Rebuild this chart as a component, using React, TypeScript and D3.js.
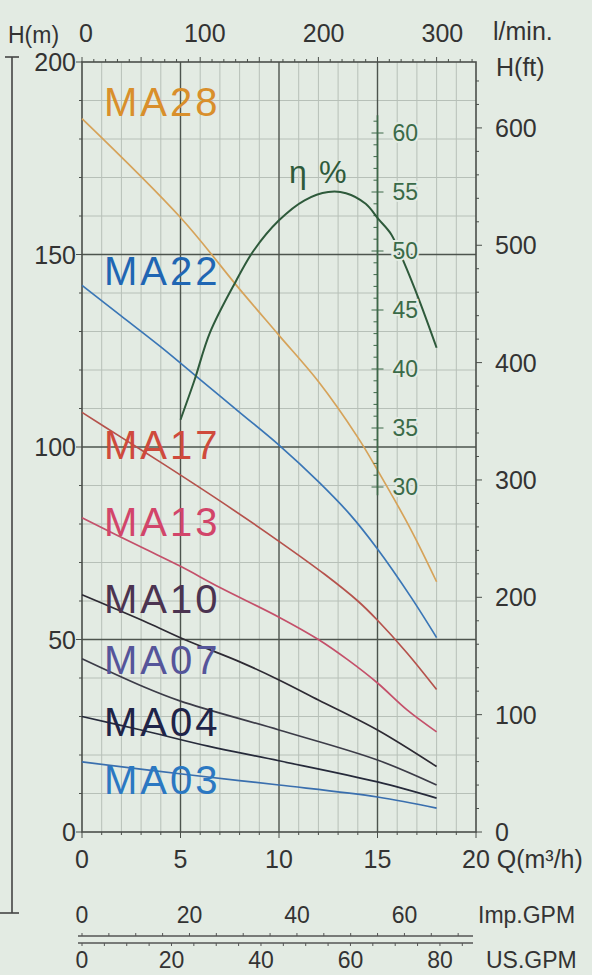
import * as d3 from "d3";
import React from "react";

// pump curves, [Q m3/h, H m]
const ma28 = [[0, 185.3], [5, 159.6], [8, 141], [10, 129], [12, 117], [14, 102.5], [15, 94], [16.7, 78.5], [18, 65]];
const ma22 = [[0, 142], [2, 134], [4, 126], [6, 117.5], [8, 109], [10, 100.5], [12, 91], [13.6, 82.5], [15, 73.5], [16.7, 61], [18, 50.5]];
const ma17 = [[0, 109], [2, 102.5], [4, 96], [7, 86], [10, 75.5], [12.3, 67], [14, 60], [15, 55], [16.5, 46.5], [18, 37]];
const ma13 = [[0, 81.6], [3, 74], [5, 69], [7, 63.5], [10, 55.8], [12, 50], [13.5, 44.7], [15, 38.7], [16.5, 31.7], [18, 26]];
const ma10 = [[0, 61.6], [3.35, 54.3], [5.2, 50], [8.1, 44], [10, 39.5], [12, 34.3], [15, 26.5], [18, 17]];
const ma07 = [[0, 45], [3, 38], [5, 34], [10, 26.5], [15, 18.7], [18, 12.2]];
const ma04 = [[0, 30], [3, 26.5], [6.4, 22.3], [10, 18.5], [15, 13], [18, 8.8]];
const ma03 = [[0, 18.2], [5.5, 14.8], [10, 12.2], [15, 9.1], [18, 6.2]];

// efficiency, [Q, eta %]
const etaCurve = [[5, 35.7], [5.7, 39], [6.5, 43.1], [7.8, 47.4], [8.7, 50], [10, 52.6], [11.3, 54.3], [12.5, 55], [13.4, 54.9], [14.4, 54], [15.05, 52.7], [15.7, 51.4], [16.3, 49.2], [17.1, 45.9], [18, 41.8]];

const models = ["MA28", "MA22", "MA17", "MA13", "MA10", "MA07", "MA04", "MA03"];
const labelH = [186, 142, 97, 77, 57, 41, 25, 10]; // label baseline in H(m)
const textColors = ["#d98f2b", "#1f66b3", "#cf4a3c", "#d2456a", "#4b3350", "#55559a", "#1f2448", "#2b78c2"];
const lineColors = ["#d6a35a", "#3a76b6", "#b5524c", "#c4506a", "#2d2a33", "#3c3c48", "#262a3a", "#3a6fae"];
const series = [ma28, ma22, ma17, ma13, ma10, ma07, ma04, ma03];

const qTicks = [0, 5, 10, 15];
const hTicks = [0, 50, 100, 150, 200];
const ftTicks = [0, 100, 200, 300, 400, 500, 600];
const lminTicks = [0, 100, 200, 300];
const impTicks = [0, 20, 40, 60];
const usTicks = [0, 20, 40, 60, 80];
const etaTicks = [30, 35, 40, 45, 50, 55, 60];

const W = 592;
const H = 975;
const bg = "#e3ebe3";
const font = "'Liberation Sans', Arial, sans-serif";

export default function App() {
  const x = d3.scaleLinear().domain([0, 20]).range([82, 476]);
  const y = d3.scaleLinear().domain([0, 200]).range([832, 62]);
  const yFt = d3.scaleLinear().domain([0, 200 / 0.3048]).range([832, 62]);
  const yEta = d3.scaleLinear().domain([30, 60]).range([487, 133]);
  const xLmin = d3.scaleLinear().domain([0, 20000 / 60]).range([86, 482]);
  const xImp = d3.scaleLinear().domain([0, 20 * 3.666]).range([82, 476]);
  const xUs = d3.scaleLinear().domain([0, 20 * 4.403]).range([82, 476]);

  const line = d3.line().x(d => x(d[0])).y(d => y(d[1])).curve(d3.curveCatmullRom.alpha(0.5));
  const etaLine = d3.line().x(d => x(d[0])).y(d => yEta(d[1])).curve(d3.curveCatmullRom.alpha(0.5));

  const xe = x(15);
  const impY = 936;
  const usY = 943;

  return (
    <svg width={W} height={H} style={{ position: "absolute", left: 0, top: 0, background: bg }} fontFamily={font}>
      <rect width={W} height={H} fill={bg} />
      {/* minor grid */}
      {d3.range(1, 20).filter(v => v % 5 !== 0).map(v => (
        <line key={`vx${v}`} x1={x(v)} x2={x(v)} y1={y(0)} y2={y(200)} stroke="#b7c0b8" strokeWidth={1} />
      ))}
      {d3.range(10, 200, 10).filter(v => v % 50 !== 0).map(v => (
        <line key={`hy${v}`} x1={x(0)} x2={x(20)} y1={y(v)} y2={y(v)} stroke="#b7c0b8" strokeWidth={1} />
      ))}
      {/* major grid */}
      {[5, 10, 15].map(v => (
        <line key={`VX${v}`} x1={x(v)} x2={x(v)} y1={y(0)} y2={y(200)} stroke="#4d544e" strokeWidth={1.4} />
      ))}
      {[50, 100, 150].map(v => (
        <line key={`HY${v}`} x1={x(0)} x2={x(20)} y1={y(v)} y2={y(v)} stroke="#4d544e" strokeWidth={1.4} />
      ))}
      <rect x={x(0)} y={y(200)} width={x(20) - x(0)} height={y(0) - y(200)} fill="none" stroke="#4a4f4a" strokeWidth={1.6} />

      {/* top l/min ticks */}
      {d3.range(0, 340, 10).map(v => (
        <line key={`lt${v}`} x1={x(v * 60 / 1000)} x2={x(v * 60 / 1000)} y1={y(200)} y2={y(200) - (v % 50 === 0 ? 5 : 3)} stroke="#4a4f4a" strokeWidth={1} />
      ))}
      {/* bottom minor ticks */}
      {d3.range(0, 21).map(v => (
        <line key={`bt${v}`} x1={x(v)} x2={x(v)} y1={y(0)} y2={y(0) + (v % 5 === 0 ? 6 : 3)} stroke="#4a4f4a" strokeWidth={1} />
      ))}
      {/* left ticks */}
      {d3.range(0, 201, 10).map(v => (
        <line key={`lh${v}`} x1={x(0)} x2={x(0) - (v % 50 === 0 ? 6 : 3)} y1={y(v)} y2={y(v)} stroke="#4a4f4a" strokeWidth={1} />
      ))}
      {/* right ft ticks */}
      {d3.range(0, 660, 20).map(v => (
        <line key={`rf${v}`} x1={x(20)} x2={x(20) + (v % 100 === 0 ? 6 : 3)} y1={yFt(v)} y2={yFt(v)} stroke="#4a4f4a" strokeWidth={1} />
      ))}

      {/* pump curves */}
      {series.map((s, i) => (
        <path key={models[i]} d={line(s as [number, number][]) || ""} fill="none" stroke={lineColors[i]} strokeWidth={1.7} />
      ))}

      {/* efficiency axis */}
      <line x1={xe} x2={xe} y1={yEta(61.5)} y2={yEta(29.3)} stroke="#3d6848" strokeWidth={1.6} />
      {d3.range(30, 62).map(v => (
        <line key={`et${v}`} x1={xe - (v % 5 === 0 ? 6 : 4)} x2={xe + (v % 5 === 0 ? 6 : 0)} y1={yEta(v)} y2={yEta(v)} stroke="#3d6848" strokeWidth={1} />
      ))}
      <path d={etaLine(etaCurve as [number, number][]) || ""} fill="none" stroke="#2e5a3b" strokeWidth={2} />
      {etaTicks.map(v => (
        <text key={`el${v}`} x={xe + 15} y={yEta(v) + 8} fontSize={23} fill="#3a6a48" stroke={bg} strokeWidth={4} paintOrder="stroke">{v}</text>
      ))}
      <text x={289} y={183} fontSize={32} fill="#2e5a3b">η</text>
      <text x={319} y={183} fontSize={31} fill="#2e5a3b">%</text>

      {/* model labels */}
      {models.map((m, i) => (
        <text key={`ml${m}`} x={104} y={y(labelH[i])} fontSize={40} letterSpacing={3} fill={textColors[i]}>{m}</text>
      ))}

      {/* left axis labels */}
      {hTicks.map(v => (
        <text key={`hl${v}`} x={76} y={y(v) + 9} fontSize={25} textAnchor="end" fill="#333">{v}</text>
      ))}
      {/* right axis labels */}
      {ftTicks.map(v => (
        <text key={`fl${v}`} x={495} y={yFt(v) + 9} fontSize={25} fill="#333">{v}</text>
      ))}
      <text x={496} y={76} fontSize={25} fill="#333">H(ft)</text>
      <text x={8} y={43} fontSize={23} fill="#333">H(m)</text>
      {/* top l/min labels */}
      {lminTicks.map(v => (
        <text key={`tl${v}`} x={xLmin(v)} y={42} fontSize={25} textAnchor="middle" fill="#333">{v}</text>
      ))}
      <text x={493} y={40} fontSize={25} fill="#333">l/min.</text>
      {/* bottom Q labels */}
      {qTicks.map(v => (
        <text key={`ql${v}`} x={x(v)} y={868} fontSize={25} textAnchor="middle" fill="#333">{v}</text>
      ))}
      <text x={462} y={868} fontSize={25} fill="#333">20 Q(m³/h)</text>

      {/* GPM scales */}
      {impTicks.map(v => (
        <text key={`il${v}`} x={xImp(v)} y={923} fontSize={23} textAnchor="middle" fill="#333">{v}</text>
      ))}
      <text x={478} y={923} fontSize={23} fill="#333">Imp.GPM</text>
      <line x1={78} x2={473} y1={impY} y2={impY} stroke="#555" strokeWidth={1.4} />
      {d3.range(0, 75, 5).map(v => (
        <line key={`it${v}`} x1={xImp(v)} x2={xImp(v)} y1={impY} y2={impY - 3} stroke="#555" strokeWidth={1} />
      ))}
      <line x1={78} x2={473} y1={usY} y2={usY} stroke="#555" strokeWidth={1.4} />
      {d3.range(0, 90, 5).map(v => (
        <line key={`ut${v}`} x1={xUs(v)} x2={xUs(v)} y1={usY} y2={usY + 3} stroke="#555" strokeWidth={1} />
      ))}
      {usTicks.map(v => (
        <text key={`ul${v}`} x={xUs(v)} y={968} fontSize={23} textAnchor="middle" fill="#333">{v}</text>
      ))}
      <text x={486} y={968} fontSize={23} fill="#333">US.GPM</text>

      {/* left bracket */}
      <line x1={12} x2={12} y1={57} y2={913} stroke="#444" strokeWidth={1.6} />
      <line x1={5} x2={19} y1={57} y2={57} stroke="#444" strokeWidth={1.6} />
      <line x1={0} x2={19} y1={913} y2={913} stroke="#444" strokeWidth={1.6} />
    </svg>
  );
}
